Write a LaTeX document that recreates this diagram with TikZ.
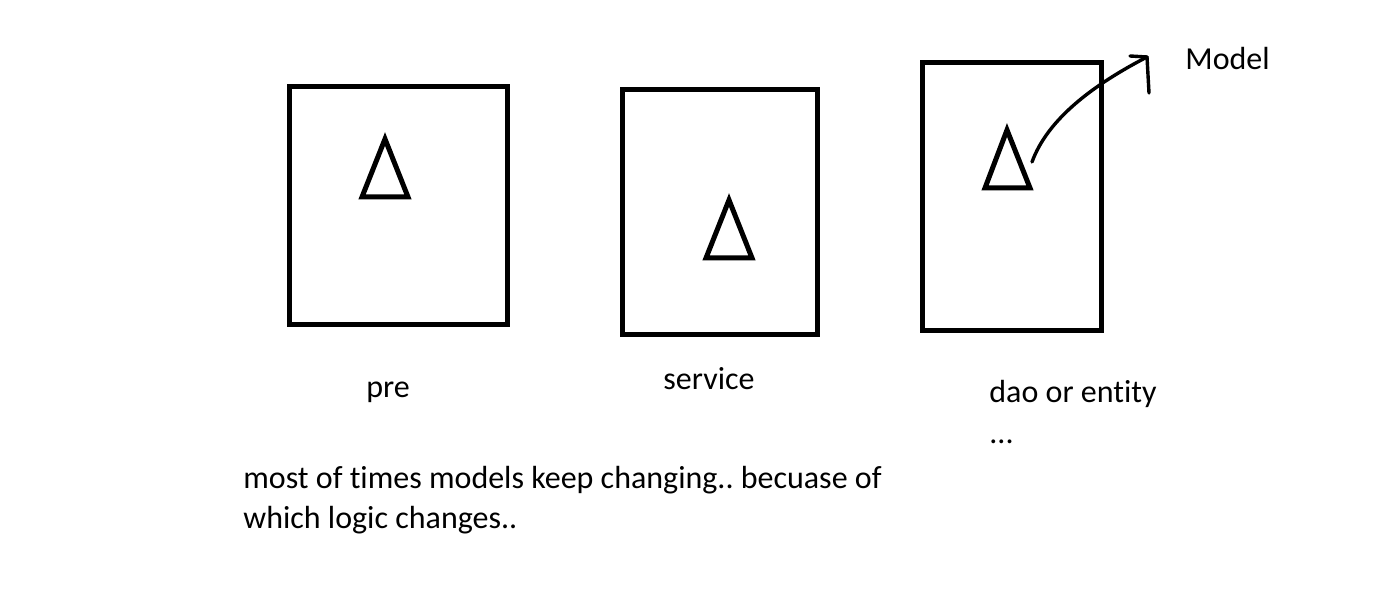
\documentclass[tikz,border=0pt]{standalone}
\usepackage{fontspec}
\setmainfont{Carlito}[RawFeature=-liga]
\frenchspacing
\begin{document}
\begin{tikzpicture}[x=0.5pt,y=-0.5pt,
  layerbox/.style={draw,line width=2.5pt},
  tri/.style={draw,line width=2.5pt,line join=miter},
  lbl/.style={font=\fontsize{16pt}{19pt}\selectfont,inner sep=0pt,anchor=base west},
  curve/.style={line width=1.7pt,line cap=round,line join=round}]
\useasboundingbox (0,0) rectangle (1375,598);
\draw[layerbox] (289.5,87) rectangle (507,325);
\draw[layerbox] (622,90) rectangle (817,335);
\draw[layerbox] (922,63) rectangle (1101,331);
\draw[tri] (385,139) -- (408,197) -- (362,197) -- cycle;
\draw[tri] (729,200) -- (752,258) -- (706,258) -- cycle;
\draw[tri] (1007,130) -- (1030,188) -- (985,188) -- cycle;
\coordinate (cs) at (1032,162);
\coordinate (ce) at (1147,57);
\coordinate (h1) at (1130,56);
\coordinate (h2) at (1149,93);
\draw[curve] (cs) .. controls (1048,118) and (1095,84) .. (ce);
\draw[curve] (h1) -- (ce) -- (h2);
\node[lbl] (model) at (1185,70) {Model};
\node[lbl] (pre) at (366,397) {pre};
\node[lbl] (svc) at (663,390) {service};
\node[lbl] (dao) at (989,402) {dao or entity};
\node[lbl] (dots) at (989,443) {...};
\node[lbl] (l1) at (243,488) {most of times models keep changing.. becuase of};
\node[lbl] (l2) at (243,528) {which logic changes..};
\end{tikzpicture}
\end{document}
